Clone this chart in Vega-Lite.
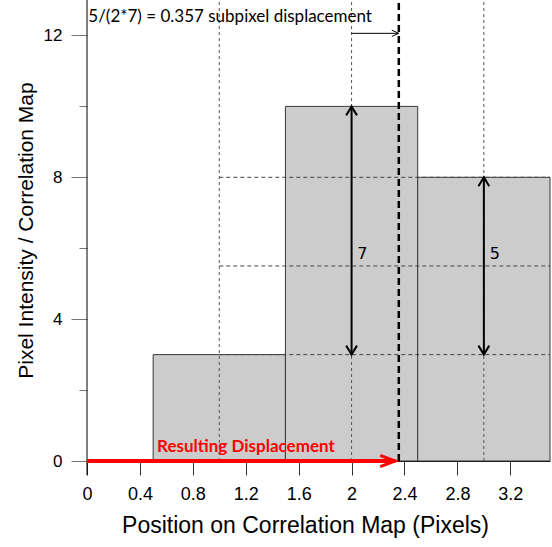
{
  "$schema": "https://vega.github.io/schema/vega-lite/v6.json",
  "width": 463,
  "height": 461,
  "autosize": {"type": "none"},
  "padding": {"left": 87, "top": 0, "right": 2, "bottom": 86},
  "background": "white",
  "config": {"view": {"stroke": null}},
  "datasets": {
    "bars": [{"x0": 0.5, "x1": 1.5, "b": 0, "h": 3}, {"x0": 1.5, "x1": 2.5, "b": 0, "h": 10}, {"x0": 2.5, "x1": 3.5, "b": 0, "h": 8}],
    "vlines": [{"x": 1, "y0": 0, "y1": 13}, {"x": 2, "y0": 0, "y1": 13}, {"x": 3, "y0": 0, "y1": 13}],
    "hlines": [{"y": 3, "x0": 1, "x1": 3.5}, {"y": 5.5, "x0": 1, "x1": 3.5}, {"y": 8, "x0": 1, "x1": 3.5}],
    "disp": [{"x": 2.357, "y0": 0, "y1": 13}],
    "yaxisline": [{"x": 0, "y0": -0.4, "y1": 13}],
    "arrows": [{"x": 2, "y0": 3, "y1": 10}, {"x": 3, "y0": 3, "y1": 8}],
    "headsUp": [{"x": 2, "y": 10}, {"x": 3, "y": 8}],
    "headsDown": [{"x": 2, "y": 3}, {"x": 3, "y": 3}],
    "small": [{"x0": 2, "x1": 2.357, "y": 12.06}],
    "red": [{"x0": 0, "x1": 2.33, "y": 0}],
    "numlabels": [{"x": 2.043, "y": 5.7, "t": "7"}, {"x": 3.045, "y": 5.7, "t": "5"}],
    "toptext": [{"x": 0.01, "y": 12.37, "t": "5/(2*7) = 0.357 subpixel displacement"}],
    "redtext": [{"x": 0.53, "y": 0.26, "t": "Resulting Displacement"}]
  },
  "layer": [
    {
      "data": {"name": "bars"},
      "mark": {"type": "rect", "fill": "#cccccc", "stroke": "#3a3a3a", "strokeWidth": 1},
      "encoding": {
        "x": {"field": "x0", "type": "quantitative",
          "scale": {"domain": [0, 3.5], "nice": false, "zero": false},
          "axis": {
            "values": [0, 0.2, 0.4, 0.6, 0.8, 1, 1.2, 1.4, 1.6, 1.8, 2, 2.2, 2.4, 2.6, 2.8, 3, 3.2, 3.4],
            "format": "~g",
            "labelExpr": "round(datum.value*10) % 4 === 0 ? datum.label : ''",
            "labelFlush": false,
            "tickSize": {"condition": {"test": "round(datum.value*10) % 4 === 0", "value": 14}, "value": 8},
            "tickColor": "#333",
            "domainColor": "#000",
            "labelFont": "Liberation Sans",
            "labelFontSize": 18,
            "labelColor": "#000",
            "labelPadding": 10,
            "grid": false,
            "title": "Position on Correlation Map (Pixels)",
            "titleFont": "Liberation Sans",
            "titleFontSize": 23,
            "titleFontWeight": "normal",
            "titleColor": "#000",
            "titleX": 218,
            "titleY": 71,
            "titleBaseline": "alphabetic"
          }
        },
        "x2": {"field": "x1"},
        "y": {"field": "b", "type": "quantitative",
          "scale": {"domain": [0, 13], "nice": false, "zero": false},
          "axis": {
            "values": [0, 2, 4, 6, 8, 10, 12],
            "labelExpr": "datum.value % 4 === 0 ? datum.label : ''",
            "labelFlush": false,
            "tickSize": {"condition": {"test": "datum.value % 4 === 0", "value": 16}, "value": 8},
            "tickColor": "#777",
            "domain": false,
            "labelFont": "Liberation Sans",
            "labelFontSize": 17,
            "labelColor": "#000",
            "labelPadding": 9,
            "grid": false,
            "title": "Pixel Intensity / Correlation Map",
            "titleFont": "Liberation Sans",
            "titleFontSize": 21,
            "titleFontWeight": "normal",
            "titleColor": "#000",
            "titleX": -55,
            "titleY": 230,
            "titleBaseline": "alphabetic"
          }
        },
        "y2": {"field": "h"}
      }
    },
    {
      "data": {"name": "vlines"},
      "mark": {"type": "rule", "stroke": "#555", "strokeWidth": 1, "strokeDash": [3, 3]},
      "encoding": {"x": {"field": "x", "type": "quantitative", "scale": {"domain": [0, 3.5], "nice": false, "zero": false}}, "y": {"field": "y0", "type": "quantitative", "scale": {"domain": [0, 13], "nice": false, "zero": false}}, "y2": {"field": "y1"}}
    },
    {
      "data": {"name": "hlines"},
      "mark": {"type": "rule", "stroke": "#444", "strokeWidth": 1, "strokeDash": [4, 3]},
      "encoding": {"y": {"field": "y", "type": "quantitative", "scale": {"domain": [0, 13], "nice": false, "zero": false}}, "x": {"field": "x0", "type": "quantitative", "scale": {"domain": [0, 3.5], "nice": false, "zero": false}}, "x2": {"field": "x1"}}
    },
    {
      "data": {"name": "disp"},
      "mark": {"type": "rule", "stroke": "#000", "strokeWidth": 2.5, "strokeDash": [7, 4]},
      "encoding": {"x": {"field": "x", "type": "quantitative", "scale": {"domain": [0, 3.5], "nice": false, "zero": false}}, "y": {"field": "y0", "type": "quantitative", "scale": {"domain": [0, 13], "nice": false, "zero": false}}, "y2": {"field": "y1"}}
    },
    {
      "data": {"name": "yaxisline"},
      "mark": {"type": "rule", "stroke": "#000", "strokeWidth": 1},
      "encoding": {"x": {"field": "x", "type": "quantitative", "scale": {"domain": [0, 3.5], "nice": false, "zero": false}}, "y": {"field": "y0", "type": "quantitative", "scale": {"domain": [0, 13], "nice": false, "zero": false}}, "y2": {"field": "y1"}}
    },
    {
      "data": {"name": "arrows"},
      "mark": {"type": "rule", "stroke": "#000", "strokeWidth": 2},
      "encoding": {"x": {"field": "x", "type": "quantitative", "scale": {"domain": [0, 3.5], "nice": false, "zero": false}}, "y": {"field": "y0", "type": "quantitative", "scale": {"domain": [0, 13], "nice": false, "zero": false}}, "y2": {"field": "y1"}}
    },
    {
      "data": {"name": "headsUp"},
      "mark": {"type": "point", "shape": "M-0.6,1L0,0L0.6,1", "filled": false, "stroke": "#000", "strokeWidth": 2, "size": 324, "opacity": 1},
      "encoding": {"x": {"field": "x", "type": "quantitative", "scale": {"domain": [0, 3.5], "nice": false, "zero": false}}, "y": {"field": "y", "type": "quantitative", "scale": {"domain": [0, 13], "nice": false, "zero": false}}}
    },
    {
      "data": {"name": "headsDown"},
      "mark": {"type": "point", "shape": "M-0.6,-1L0,0L0.6,-1", "filled": false, "stroke": "#000", "strokeWidth": 2, "size": 324, "opacity": 1},
      "encoding": {"x": {"field": "x", "type": "quantitative", "scale": {"domain": [0, 3.5], "nice": false, "zero": false}}, "y": {"field": "y", "type": "quantitative", "scale": {"domain": [0, 13], "nice": false, "zero": false}}}
    },
    {
      "data": {"name": "small"},
      "mark": {"type": "rule", "stroke": "#000", "strokeWidth": 1},
      "encoding": {"y": {"field": "y", "type": "quantitative", "scale": {"domain": [0, 13], "nice": false, "zero": false}}, "x": {"field": "x0", "type": "quantitative", "scale": {"domain": [0, 3.5], "nice": false, "zero": false}}, "x2": {"field": "x1"}}
    },
    {
      "data": {"name": "small"},
      "mark": {"type": "point", "shape": "M-1,-0.45L0,0L-1,0.45", "filled": false, "stroke": "#000", "strokeWidth": 1, "size": 196, "opacity": 1},
      "encoding": {"x": {"field": "x1", "type": "quantitative", "scale": {"domain": [0, 3.5], "nice": false, "zero": false}}, "y": {"field": "y", "type": "quantitative", "scale": {"domain": [0, 13], "nice": false, "zero": false}}}
    },
    {
      "data": {"name": "numlabels"},
      "mark": {"type": "text", "font": "DejaVu Sans", "fontSize": 16, "align": "left", "baseline": "alphabetic", "color": "#000"},
      "encoding": {"x": {"field": "x", "type": "quantitative", "scale": {"domain": [0, 3.5], "nice": false, "zero": false}}, "y": {"field": "y", "type": "quantitative", "scale": {"domain": [0, 13], "nice": false, "zero": false}}, "text": {"field": "t"}}
    },
    {
      "data": {"name": "toptext"},
      "mark": {"type": "text", "font": "Lato", "fontSize": 17, "align": "left", "baseline": "alphabetic", "color": "#000"},
      "encoding": {"x": {"field": "x", "type": "quantitative", "scale": {"domain": [0, 3.5], "nice": false, "zero": false}}, "y": {"field": "y", "type": "quantitative", "scale": {"domain": [0, 13], "nice": false, "zero": false}}, "text": {"field": "t"}}
    },
    {
      "data": {"name": "redtext"},
      "mark": {"type": "text", "font": "Lato", "fontSize": 17, "fontWeight": "bold", "align": "left", "baseline": "alphabetic", "color": "#ff0000"},
      "encoding": {"x": {"field": "x", "type": "quantitative", "scale": {"domain": [0, 3.5], "nice": false, "zero": false}}, "y": {"field": "y", "type": "quantitative", "scale": {"domain": [0, 13], "nice": false, "zero": false}}, "text": {"field": "t"}}
    },
    {
      "data": {"name": "red"},
      "mark": {"type": "rule", "stroke": "#ff0000", "strokeWidth": 4},
      "encoding": {"y": {"field": "y", "type": "quantitative", "scale": {"domain": [0, 13], "nice": false, "zero": false}}, "x": {"field": "x0", "type": "quantitative", "scale": {"domain": [0, 3.5], "nice": false, "zero": false}}, "x2": {"field": "x1"}}
    },
    {
      "data": {"name": "red"},
      "mark": {"type": "point", "shape": "M-1,-0.37L0,0L-1,0.37", "filled": false, "stroke": "#ff0000", "strokeWidth": 3, "size": 900, "opacity": 1},
      "encoding": {"x": {"field": "x1", "type": "quantitative", "scale": {"domain": [0, 3.5], "nice": false, "zero": false}}, "y": {"field": "y", "type": "quantitative", "scale": {"domain": [0, 13], "nice": false, "zero": false}}}
    }
  ]
}
